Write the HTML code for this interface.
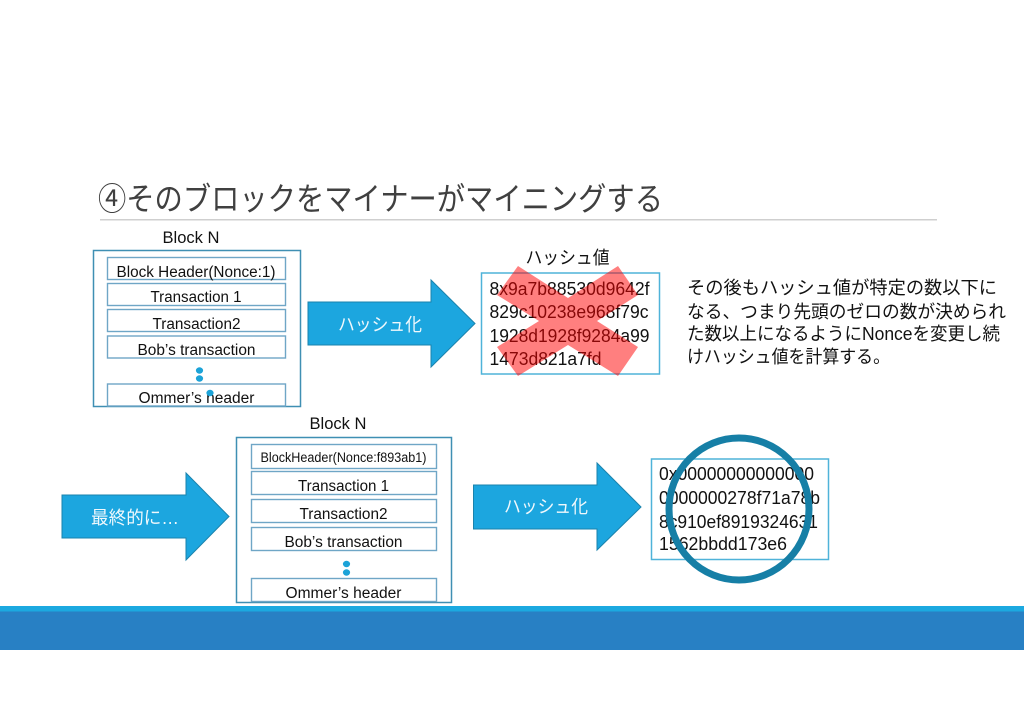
<!DOCTYPE html>
<html lang="ja"><head><meta charset="utf-8"><title>Mining</title>
<style>
html,body{margin:0;padding:0;background:#fff;width:1024px;height:724px;overflow:hidden}
svg{display:block}
text{font-family:"Liberation Sans","Noto Sans CJK JP",sans-serif;fill:#111}
.m{text-anchor:middle}
.w{fill:#f0f8fc}
</style></head><body>
<svg width="1024" height="724" viewBox="0 0 1024 724" xmlns="http://www.w3.org/2000/svg">
<rect width="1024" height="724" fill="#fff"/>
<!-- title -->
<text x="98" y="210" font-size="32" style="fill:#404040" textLength="565" lengthAdjust="spacingAndGlyphs">④そのブロックをマイナーがマイニングする</text>
<rect x="100" y="219" width="837" height="1.5" fill="#cfcfcf"/>

<!-- block 1 -->
<text x="191" y="243" font-size="17" class="m" textLength="57" lengthAdjust="spacingAndGlyphs">Block N</text>
<rect x="93.5" y="250.5" width="207" height="156" fill="#fff" stroke="#3f8fb3" stroke-width="1.5"/>
<g fill="#fff" stroke="#6fa6c6" stroke-width="1.4">
<rect x="107.5" y="257.5" width="178" height="22"/>
<rect x="107.5" y="283.5" width="178" height="22"/>
<rect x="107.5" y="309.5" width="178" height="22"/>
<rect x="107.5" y="336" width="178" height="22"/>
<rect x="107.5" y="384" width="178" height="22"/>
</g>
<text x="196" y="277" font-size="15.5" class="m" textLength="159" lengthAdjust="spacingAndGlyphs">Block Header(Nonce:1)</text>
<text x="196" y="302" font-size="15.5" class="m" textLength="91" lengthAdjust="spacingAndGlyphs">Transaction 1</text>
<text x="196.5" y="329" font-size="15.5" class="m" textLength="88" lengthAdjust="spacingAndGlyphs">Transaction2</text>
<text x="196.5" y="355" font-size="15.5" class="m" textLength="118" lengthAdjust="spacingAndGlyphs">Bob’s transaction</text>
<text x="196.5" y="403" font-size="15.5" class="m" textLength="116" lengthAdjust="spacingAndGlyphs">Ommer’s header</text>
<g fill="#1ca3d8"><ellipse cx="199.5" cy="370.5" rx="3.6" ry="3.2"/><ellipse cx="199.5" cy="378.5" rx="3.6" ry="3.2"/><ellipse cx="210" cy="393" rx="3.6" ry="3.2"/></g>

<!-- arrow 1 -->
<polygon points="308,302 431,302 431,280 475,323.5 431,367 431,345 308,345" fill="#1ca6df" stroke="#1a83ad" stroke-width="1"/>
<text x="380" y="331" font-size="18" class="m w" textLength="84" lengthAdjust="spacingAndGlyphs">ハッシュ化</text>

<!-- hash 1 -->
<text x="567.5" y="264" font-size="18" class="m" textLength="84" lengthAdjust="spacingAndGlyphs">ハッシュ値</text>
<rect x="481.5" y="273" width="178" height="101" fill="#fff" stroke="#4fb3d9" stroke-width="1.5"/>
<g font-size="18">
<text x="489.5" y="295" textLength="160" lengthAdjust="spacingAndGlyphs">8x9a7b88530d9642f</text>
<text x="489.5" y="318" textLength="159" lengthAdjust="spacingAndGlyphs">829c10238e968f79c</text>
<text x="489.5" y="342" textLength="160" lengthAdjust="spacingAndGlyphs">1928d1928f9284a99</text>
<text x="489.5" y="365" textLength="112" lengthAdjust="spacingAndGlyphs">1473d821a7fd</text>
</g>
<polygon points="518,266 568,298 618,266 638,295 597,321 638,347 618,376 568,345 518,376 497,347 539,321 497,295" fill="#ff0000" fill-opacity=".5"/>

<!-- description -->
<g font-size="18">
<text x="687" y="294" textLength="310" lengthAdjust="spacingAndGlyphs">その後もハッシュ値が特定の数以下に</text>
<text x="687" y="318" textLength="319" lengthAdjust="spacingAndGlyphs">なる、つまり先頭のゼロの数が決められ</text>
<text x="687" y="340" textLength="313" lengthAdjust="spacingAndGlyphs">た数以上になるようにNonceを変更し続</text>
<text x="687" y="363" textLength="203" lengthAdjust="spacingAndGlyphs">けハッシュ値を計算する。</text>
</g>

<!-- left arrow -->
<polygon points="62,495 186,495 186,473 229,516.5 186,560 186,538 62,538" fill="#1ca6df" stroke="#1a83ad" stroke-width="1"/>
<text x="135" y="524" font-size="18" class="m w" textLength="88" lengthAdjust="spacingAndGlyphs">最終的に…</text>

<!-- block 2 -->
<text x="338" y="429" font-size="17" class="m" textLength="57" lengthAdjust="spacingAndGlyphs">Block N</text>
<rect x="236.5" y="437.5" width="215" height="165" fill="#fff" stroke="#3f8fb3" stroke-width="1.5"/>
<g fill="#fff" stroke="#6fa6c6" stroke-width="1.4">
<rect x="251.5" y="444.5" width="185" height="24"/>
<rect x="251.5" y="471.5" width="185" height="23"/>
<rect x="251.5" y="499.5" width="185" height="23"/>
<rect x="251.5" y="527.5" width="185" height="23"/>
<rect x="251.5" y="578.5" width="185" height="23"/>
</g>
<text x="343.5" y="462" font-size="13.5" class="m" textLength="166" lengthAdjust="spacingAndGlyphs">BlockHeader(Nonce:f893ab1)</text>
<text x="343.5" y="491" font-size="15.5" class="m" textLength="91" lengthAdjust="spacingAndGlyphs">Transaction 1</text>
<text x="343.5" y="519" font-size="15.5" class="m" textLength="88" lengthAdjust="spacingAndGlyphs">Transaction2</text>
<text x="343.5" y="547" font-size="15.5" class="m" textLength="118" lengthAdjust="spacingAndGlyphs">Bob’s transaction</text>
<text x="343.5" y="598" font-size="15.5" class="m" textLength="116" lengthAdjust="spacingAndGlyphs">Ommer’s header</text>
<g fill="#1ca3d8"><ellipse cx="346.5" cy="564" rx="3.6" ry="3.2"/><ellipse cx="346.5" cy="572.5" rx="3.6" ry="3.2"/></g>

<!-- arrow 2 -->
<polygon points="473.5,485 597,485 597,463 641,507 597,550 597,529 473.5,529" fill="#1ca6df" stroke="#1a83ad" stroke-width="1"/>
<text x="546" y="513" font-size="18" class="m w" textLength="84" lengthAdjust="spacingAndGlyphs">ハッシュ化</text>

<!-- hash 2 -->
<rect x="651.5" y="459" width="177" height="100.5" fill="#fff" stroke="#4fb3d9" stroke-width="1.5"/>
<g font-size="18">
<text x="659" y="480" textLength="155" lengthAdjust="spacingAndGlyphs">0x00000000000000</text>
<text x="659" y="504" textLength="161" lengthAdjust="spacingAndGlyphs">0000000278f71a78b</text>
<text x="659" y="528" textLength="159" lengthAdjust="spacingAndGlyphs">8c910ef8919324631</text>
<text x="659" y="550" textLength="128" lengthAdjust="spacingAndGlyphs">1562bbdd173e6</text>
</g>
<ellipse cx="739" cy="509" rx="70" ry="71" fill="none" stroke="#167fa6" stroke-width="7"/>

<!-- footer -->
<rect x="0" y="606" width="1024" height="6" fill="#1ca9e0"/>
<rect x="0" y="611.5" width="1024" height="38.5" fill="#2880c4"/>
</svg>
</body></html>
